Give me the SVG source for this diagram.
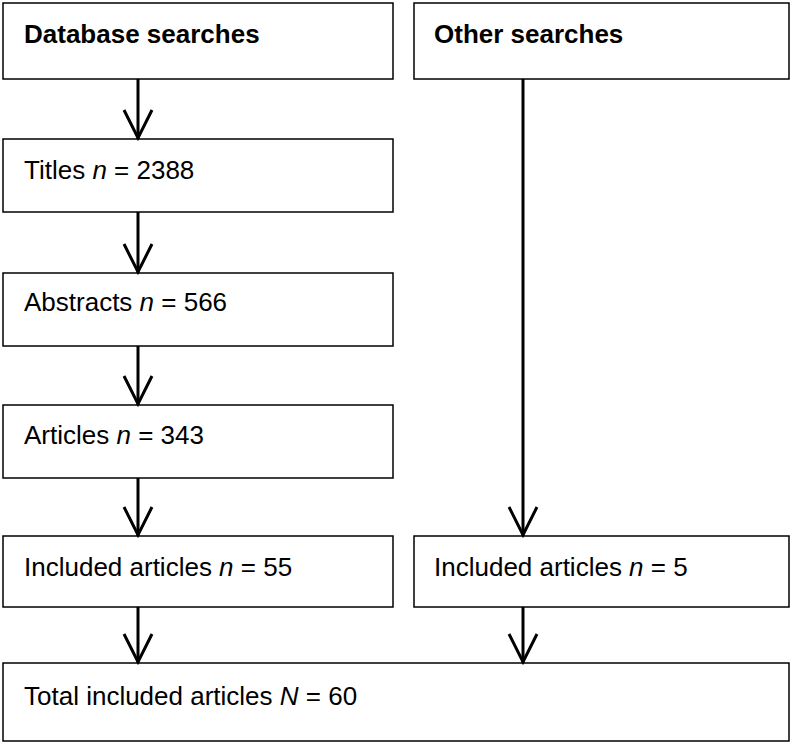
<svg xmlns="http://www.w3.org/2000/svg" width="792" height="745" viewBox="0 0 792 745">
<style>
.b{fill:#fff;stroke:#000;stroke-width:1.5}
text{font-family:"Liberation Sans",Arial,sans-serif;font-size:26px;fill:#000}
.h{font-weight:bold}
.c line,.c path{stroke:#000;stroke-width:3;fill:none}
</style>
<rect width="792" height="745" fill="#fff"/>
<g id="db"><rect class="b" x="3" y="3" width="390" height="76"/><text class="h" x="24" y="43">Database searches</text></g>
<g id="other"><rect class="b" x="414" y="3" width="375" height="76"/><text class="h" x="434" y="43">Other searches</text></g>
<g id="titles"><rect class="b" x="3" y="139" width="390" height="73"/><text x="24" y="179">Titles <tspan font-style="italic">n</tspan> = 2388</text></g>
<g id="abstracts"><rect class="b" x="3" y="273" width="390" height="73"/><text x="24" y="311">Abstracts <tspan font-style="italic">n</tspan> = 566</text></g>
<g id="articles"><rect class="b" x="3" y="405" width="390" height="73"/><text x="24" y="444">Articles <tspan font-style="italic">n</tspan> = 343</text></g>
<g id="incl1"><rect class="b" x="3" y="536" width="390" height="71"/><text x="24" y="576">Included articles <tspan font-style="italic">n</tspan> = 55</text></g>
<g id="incl2"><rect class="b" x="414" y="536" width="375" height="71"/><text x="434" y="576">Included articles <tspan font-style="italic">n</tspan> = 5</text></g>
<g id="total"><rect class="b" x="3" y="663" width="786" height="78"/><text x="24" y="705">Total included articles <tspan font-style="italic">N</tspan> = 60</text></g>
<g class="c" id="connectors">
<line x1="138" y1="79" x2="138" y2="139"/><path d="M124 110 L138 138 L152 110"/>
<line x1="138" y1="212" x2="138" y2="273"/><path d="M124 244 L138 272 L152 244"/>
<line x1="138" y1="346" x2="138" y2="405"/><path d="M124 376 L138 404 L152 376"/>
<line x1="138" y1="478" x2="138" y2="536"/><path d="M124 507 L138 535 L152 507"/>
<line x1="138" y1="607" x2="138" y2="663"/><path d="M124 634 L138 662 L152 634"/>
<line x1="523" y1="79" x2="523" y2="536"/><path d="M509 507 L523 535 L537 507"/>
<line x1="523" y1="607" x2="523" y2="663"/><path d="M509 634 L523 662 L537 634"/>
</g>
</svg>
